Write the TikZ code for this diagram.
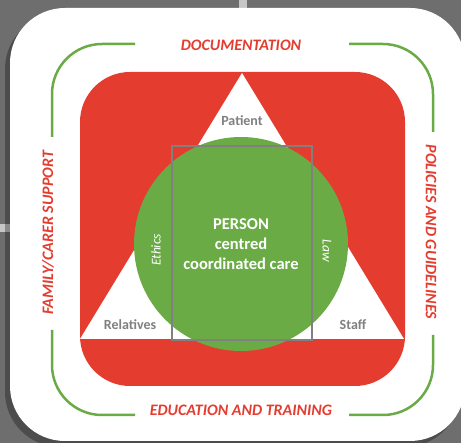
\documentclass[tikz,border=0pt]{standalone}
\usepackage{fontspec}
\setmainfont{Carlito}
\usepackage{xcolor}
\usepackage{tikz}
\usetikzlibrary{positioning}

\definecolor{bgrey}{RGB}{110,110,110}
\definecolor{careRed}{RGB}{229,60,48}
\definecolor{careGreen}{RGB}{106,171,70}
\definecolor{textGrey}{RGB}{128,128,128}

\tikzset{
    card/.style={rounded corners=55pt, minimum width=455pt, minimum height=433pt, inner sep=0pt},
    bracket/.style={careGreen, line width=2.5pt, rounded corners=50pt},
    sidelabel/.style={text=careRed, font=\fontsize{16}{18}\selectfont\bfseries\itshape, inner sep=0pt},
    rolelabel/.style={text=textGrey, font=\fontsize{14}{16}\selectfont\bfseries, inner sep=0pt},
    valuelabel/.style={text=white, font=\fontsize{13.5}{15}\selectfont\itshape, inner sep=0pt}
}

\begin{document}
\begin{tikzpicture}[x=1pt, y=-1pt]
    % background with the two light bars
    \useasboundingbox (0,0) rectangle (461,443);
    \clip (0,0) rectangle (461,443);
    \fill[bgrey] (0,0) rectangle (461,443);
    \fill[gray!45] (239,0) rectangle (247,10);
    \fill[gray!45] (0,224) rectangle (12,232);

    % card with its shadow
    \node[card, fill=black, opacity=0.3] (shadow) at (232.5,230.5) {};
    \node[card, fill=white] (sheet) at (237.5,224.5) {};

    % green brackets
    \draw[bracket] (135,44) -- (52,44) -- (52,137);
    \draw[bracket] (349,44) -- (433,44) -- (433,132);
    \draw[bracket] (52,330) -- (52,415) -- (135,415);
    \draw[bracket] (433,335) -- (433,415) -- (349,415);

    % red square, white triangle, green circle
    \fill[careRed, rounded corners=50pt] (80,72) rectangle (405,386);
    \fill[white] (242,73) -- (80,339) -- (404,339) -- cycle;
    \node[circle, fill=careGreen, minimum size=214pt, inner sep=0pt, text=white,
          align=center, font=\fontsize{16.5}{20}\selectfont\bfseries] (person) at (241,244)
          {PERSON\\centred\\coordinated care};

    % grey frame over the circle
    \draw[textGrey, line width=2.5pt] (172,146) rectangle (312,340);

    % side labels
    \node[sidelabel] (docu) at (241,45) {DOCUMENTATION};
    \node[sidelabel] (edu) at (241,410) {EDUCATION AND TRAINING};
    \node[sidelabel, rotate=90] (family) at (48,233) {FAMILY/CARER SUPPORT};
    \node[sidelabel, rotate=-90] (policies) at (431,232) {POLICIES AND GUIDELINES};

    % corners of the triangle
    \node[rolelabel] (patient) at (242,121) {Patient};
    \node[rolelabel] (relatives) at (130,325) {Relatives};
    \node[rolelabel] (staff) at (353,325) {Staff};

    % ethics and law
    \node[valuelabel, rotate=90] (ethics) at (156,250) {Ethics};
    \node[valuelabel, rotate=-90] (law) at (327,251) {Law};
\end{tikzpicture}
\end{document}
